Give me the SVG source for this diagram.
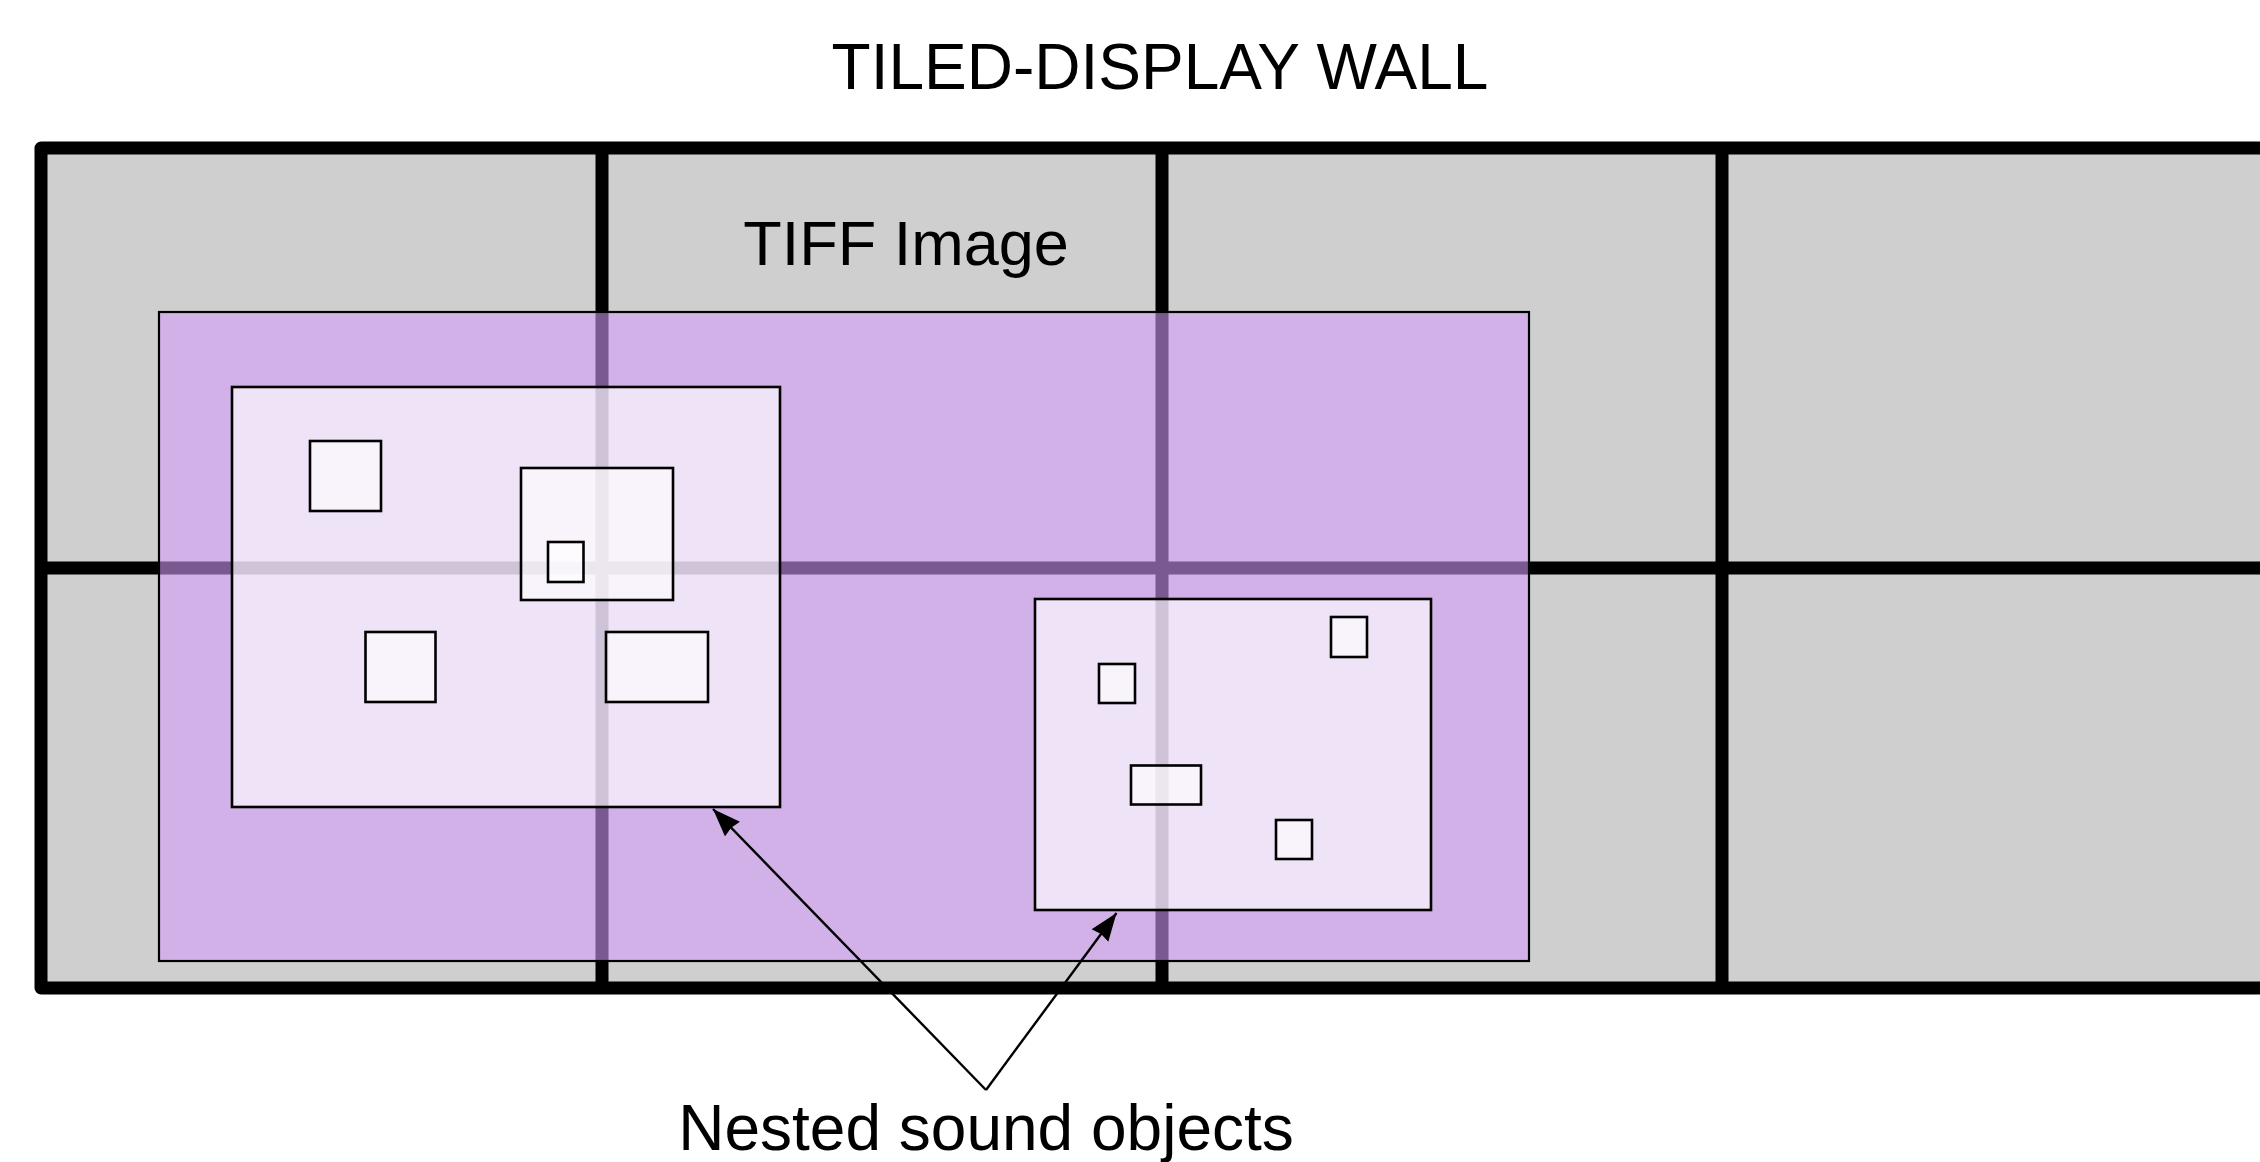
<svg xmlns="http://www.w3.org/2000/svg" width="2260" height="1162" viewBox="0 0 2260 1162">
  <style>
    .label { font-family: "Liberation Sans", Arial, sans-serif; font-size: 63px; fill: #000; text-anchor: middle; }
    .big { font-size: 64px; }
    .grid { stroke: #000; stroke-width: 13; fill: none; stroke-linejoin: round; }
    .tiff { fill: rgb(212,155,251); fill-opacity: 0.575; stroke: #000; stroke-width: 2.2; }
    .group { fill: #fff; fill-opacity: 0.64; stroke: #000; stroke-width: 2.6; }
    .obj { fill: #fff; fill-opacity: 0.6; stroke: #000; stroke-width: 2.6; }
    .conn { stroke: #000; stroke-width: 2.4; fill: none; }
  </style>
  <defs>
    <marker id="arrow" viewBox="0 0 28 21" refX="28" refY="10.5" markerWidth="28" markerHeight="21" markerUnits="userSpaceOnUse" orient="auto">
      <path d="M0,0 L28,10.5 L0,21 L2,10.5 z" fill="#000"/>
    </marker>
  </defs>
  <rect width="2260" height="1162" fill="#fff"/>

  <g id="title">
    <text class="label big" x="1160" y="89">TILED-DISPLAY WALL</text>
  </g>

  <g id="display-wall">
    <rect x="41" y="148" width="2230" height="840" fill="#cfcfcf"/>
    <path class="grid" d="M2275,148 H41 V988 H2275"/>
    <path class="grid" d="M41,568 H2275 M602,148 V988 M1162,148 V988 M1722,148 V988"/>
  </g>

  <g id="tiff-image">
    <rect class="tiff" x="159" y="312" width="1370" height="649"/>
    <text class="label" x="906" y="265">TIFF Image</text>
  </g>

  <g id="sound-group-1">
    <rect class="group" x="232" y="387" width="548" height="420"/>
    <rect class="obj" x="310" y="441" width="71" height="70"/>
    <rect class="obj" x="521" y="468" width="152" height="132"/>
    <rect class="obj" x="548" y="542" width="35.5" height="40"/>
    <rect class="obj" x="365.5" y="632" width="70" height="70"/>
    <rect class="obj" x="606" y="632" width="102" height="70"/>
  </g>

  <g id="sound-group-2">
    <rect class="group" x="1035" y="599" width="396" height="311"/>
    <rect class="obj" x="1331" y="617" width="36" height="40"/>
    <rect class="obj" x="1099" y="664" width="36" height="39"/>
    <rect class="obj" x="1131" y="765.5" width="70" height="39"/>
    <rect class="obj" x="1276" y="820" width="36" height="39"/>
  </g>

  <g id="connectors">
    <line class="conn" x1="986" y1="1090" x2="713" y2="809" marker-end="url(#arrow)"/>
    <line class="conn" x1="986" y1="1090" x2="1116.5" y2="913" marker-end="url(#arrow)"/>
  </g>

  <g id="caption">
    <text class="label big" x="986" y="1150">Nested sound objects</text>
  </g>
</svg>
